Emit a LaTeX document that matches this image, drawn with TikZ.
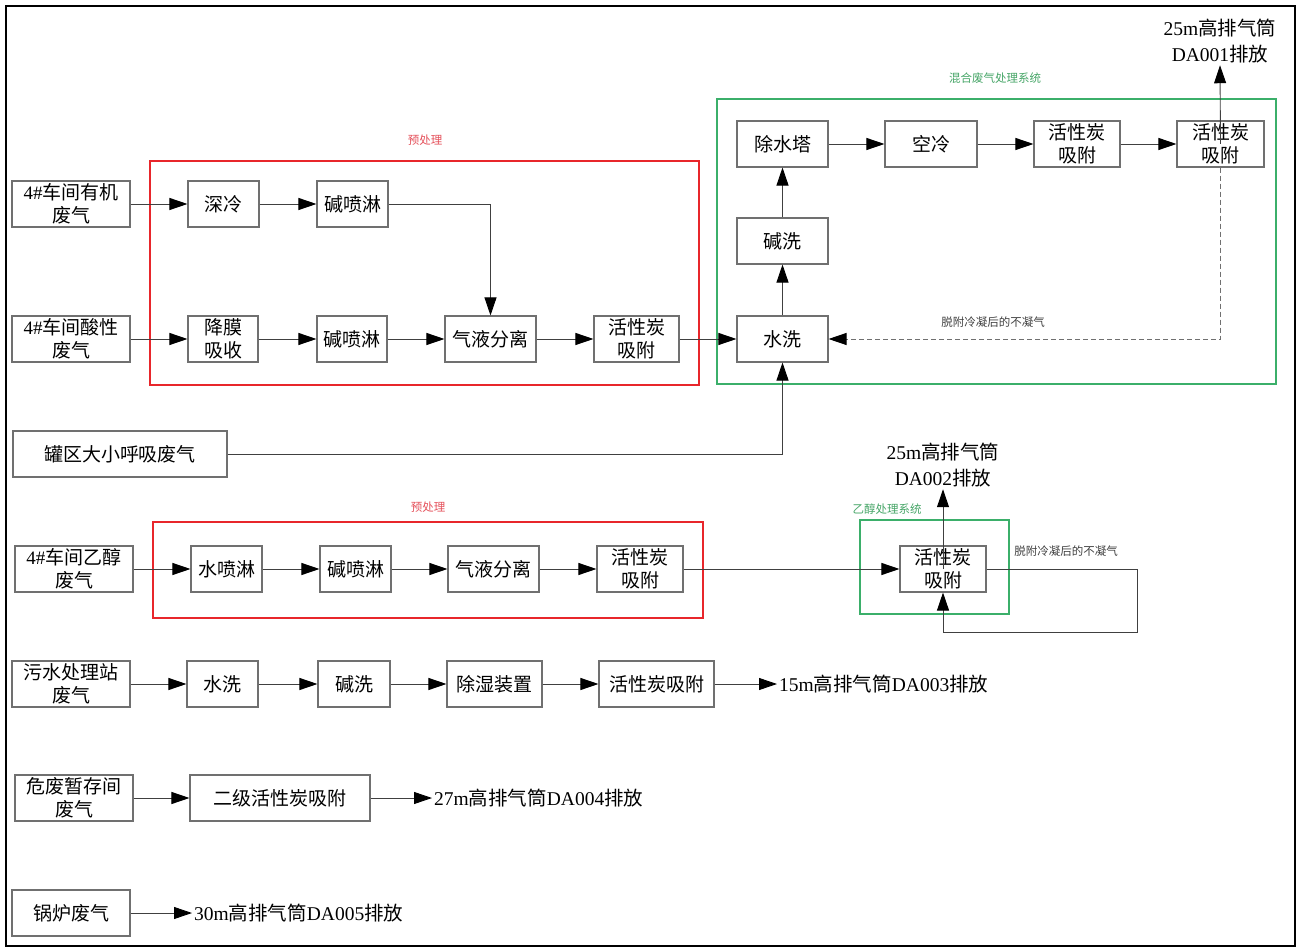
\documentclass[tikz,border=0pt]{standalone}
\usepackage{fontspec}
\setmainfont{Noto Sans CJK SC}
\newfontfamily\lat{Liberation Serif}
\usetikzlibrary{arrows.meta}
\definecolor{boxgray}{HTML}{707070}
\definecolor{linegray}{HTML}{404040}
\definecolor{redframe}{HTML}{E8262B}
\definecolor{greenframe}{HTML}{3BAF6A}
\definecolor{redlabel}{HTML}{E5505A}
\definecolor{greenlabel}{HTML}{45A566}
\tikzset{
  box/.style={draw=boxgray, line width=1.1pt, fill=white, minimum height=46pt, inner sep=0pt, align=center, font=\fontsize{19}{22.5}\selectfont},
  arr/.style={draw=linegray, line width=0.9pt, -{Triangle[length=18pt,width=12pt,color=black,fill=black]}},
  outtxt/.style={inner sep=2pt, align=center, font=\fontsize{19.5}{26}\selectfont},
  smalllbl/.style={inner sep=0pt, font=\fontsize{11.5}{13}\selectfont},
  redbox/.style={draw=redframe, line width=1.4pt},
  greenbox/.style={draw=greenframe, line width=1.4pt}
}
\begin{document}
\begin{tikzpicture}[x=1pt,y=-1pt]
\useasboundingbox (0,0) rectangle (1299,949);
\fill[white] (0,0) rectangle (1299,949);
\draw[black, line width=2pt] (6,6) rectangle (1295,946);
% frames
\draw[redbox] (150,161) rectangle (699,385);
\node[smalllbl, text=redlabel] (lblr1) at (425,140) {预处理};
\draw[greenbox] (717,99) rectangle (1276,384);
\node[smalllbl, text=greenlabel] (lblg1) at (995,78) {混合废气处理系统};
\draw[redbox] (153,522) rectangle (703,618);
\node[smalllbl, text=redlabel] (lblr2) at (428,507) {预处理};
\draw[greenbox] (860,520) rectangle (1009,614);
\node[smalllbl, text=greenlabel] (lblg2) at (887,509) {乙醇处理系统};
% row 1
\node[box, minimum width=118pt] (src1) at (71,204) {{\lat 4\#}车间有机\\废气};
\node[box, minimum width=71pt] (sl) at (223.5,204) {深冷};
\node[box, minimum width=71pt] (jp1) at (352.5,204) {碱喷淋};
% row 2
\node[box, minimum width=118pt] (src2) at (71,339) {{\lat 4\#}车间酸性\\废气};
\node[box, minimum width=70pt] (jm) at (223,339) {降膜\\吸收};
\node[box, minimum width=70pt] (jp2) at (352,339) {碱喷淋};
\node[box, minimum width=91pt] (qy1) at (490.5,339) {气液分离};
\node[box, minimum width=85pt] (hx1) at (636.5,339) {活性炭\\吸附};
\node[box, minimum width=91pt] (sx) at (782.5,339) {水洗};
% mixed system
\node[box, minimum width=91pt] (jx) at (782.5,241) {碱洗};
\node[box, minimum width=91pt] (cs) at (782.5,144) {除水塔};
\node[box, minimum width=92pt] (kl) at (931,144) {空冷};
\node[box, minimum width=86pt] (hx2) at (1077,144) {活性炭\\吸附};
\node[box, minimum width=87pt] (hx3) at (1220.5,144) {活性炭\\吸附};
\node[outtxt] (out1) at (1220,41) {{\lat 25m}高排气筒\\{\lat DA001}排放};
% tank
\node[box, minimum width=214pt] (tank) at (120,454) {罐区大小呼吸废气};
% row 4
\node[box, minimum width=118pt] (src3) at (74,569) {{\lat 4\#}车间乙醇\\废气};
\node[box, minimum width=71pt] (ssl) at (226.5,569) {水喷淋};
\node[box, minimum width=71pt] (jp3) at (355.5,569) {碱喷淋};
\node[box, minimum width=91pt] (qy2) at (493.5,569) {气液分离};
\node[box, minimum width=86pt] (hx4) at (640,569) {活性炭\\吸附};
\node[box, minimum width=86pt] (hx5) at (943,569) {活性炭\\吸附};
\node[outtxt] (out2) at (943,465) {{\lat 25m}高排气筒\\{\lat DA002}排放};
\coordinate (loop) at (1137,632);
% row 5
\node[box, minimum width=118pt] (src4) at (71,684) {污水处理站\\废气};
\node[box, minimum width=71pt] (sx2) at (222.5,684) {水洗};
\node[box, minimum width=72pt] (jx2) at (354,684) {碱洗};
\node[box, minimum width=95pt] (cs2) at (494.5,684) {除湿装置};
\node[box, minimum width=115pt] (hx6) at (656.5,684) {活性炭吸附};
\node[outtxt, anchor=west] (out3) at (777,684) {{\lat 15m}高排气筒{\lat DA003}排放};
% row 6
\node[box, minimum width=118pt] (src5) at (74,798) {危废暂存间\\废气};
\node[box, minimum width=180pt] (ej) at (280,798) {二级活性炭吸附};
\node[outtxt, anchor=west] (out4) at (432,798) {{\lat 27m}高排气筒{\lat DA004}排放};
% row 7
\node[box, minimum width=118pt] (src6) at (71,913) {锅炉废气};
\node[outtxt, anchor=west] (out5) at (192,913) {{\lat 30m}高排气筒{\lat DA005}排放};
% connectors row 1/2
\draw[arr] (src1) -- (sl);
\draw[arr] (sl) -- (jp1);
\draw[arr] (jp1.east) -| (qy1.north);
\draw[arr] (src2) -- (jm);
\draw[arr] (jm) -- (jp2);
\draw[arr] (jp2) -- (qy1);
\draw[arr] (qy1) -- (hx1);
\draw[arr] (hx1) -- (sx);
\draw[arr] (sx) -- (jx);
\draw[arr] (jx) -- (cs);
\draw[arr] (cs) -- (kl);
\draw[arr] (kl) -- (hx2);
\draw[arr] (hx2) -- (hx3);
\draw[arr] (hx3.center) -- (out1.south);
\draw[arr, draw=boxgray, dash pattern=on 5pt off 3pt] (hx3.south) |- (sx.east);
\node[smalllbl, text=linegray] (lbld1) at (993,322) {脱附冷凝后的不凝气};
\draw[arr] (tank.east) -| (sx.south);
% row 4
\draw[arr] (src3) -- (ssl);
\draw[arr] (ssl) -- (jp3);
\draw[arr] (jp3) -- (qy2);
\draw[arr] (qy2) -- (hx4);
\draw[arr] (hx4) -- (hx5);
\draw[arr] (hx5.center) -- (out2.south);
\draw[arr] (hx5.east) -| (loop) -| (hx5.south);
\node[smalllbl, text=linegray] (lbld2) at (1066,551) {脱附冷凝后的不凝气};
% row 5
\draw[arr] (src4) -- (sx2);
\draw[arr] (sx2) -- (jx2);
\draw[arr] (jx2) -- (cs2);
\draw[arr] (cs2) -- (hx6);
\draw[arr] (hx6) -- (out3);
% row 6
\draw[arr] (src5) -- (ej);
\draw[arr] (ej) -- (out4);
% row 7
\draw[arr] (src6) -- (out5);
\end{tikzpicture}
\end{document}
